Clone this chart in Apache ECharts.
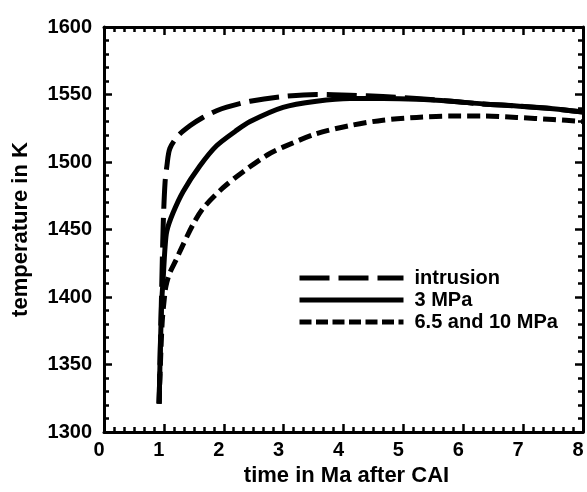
<!DOCTYPE html>
<html>
<head>
<meta charset="utf-8">
<script src="https://cdn.jsdelivr.net/npm/echarts@6/dist/echarts.min.js"></script>
<style>
html,body{margin:0;padding:0;background:#fff;}
#chart{width:587px;height:492px;}
</style>
</head>
<body>
<div id="chart"></div>
<script>
// Data
var seriesNames = ['intrusion', '3 MPa', '6.5 and 10 MPa'];

var intrusionTime = [0.92, 0.96, 0.99, 1.02, 1.05, 1.10, 1.24, 1.44, 1.65, 1.88, 2.05, 2.44, 2.99, 3.55, 4.11, 4.66, 5.22, 5.8, 6.33, 6.89, 7.5, 8.0];
var intrusionTemp = [1321, 1400, 1455, 1485, 1497, 1510, 1519.5, 1527, 1533, 1538, 1540.7, 1545, 1548.5, 1550, 1549.5, 1548.5, 1547, 1545, 1543, 1541.5, 1539.5, 1537];

var mpa3Time = [0.92, 0.96, 0.99, 1.02, 1.05, 1.15, 1.32, 1.6, 1.88, 2.2, 2.44, 2.99, 3.55, 4.11, 4.66, 5.22, 5.8, 6.33, 6.89, 7.5, 8.0];
var mpa3Temp = [1321, 1393, 1415, 1437, 1449, 1462, 1478, 1497, 1512, 1523, 1530, 1540.5, 1545, 1547, 1547, 1546.5, 1545, 1543, 1541.5, 1539.5, 1537];

var mpa65Time = [0.92, 0.97, 1.02, 1.05, 1.1, 1.21, 1.27, 1.49, 1.66, 1.99, 2.33, 2.72, 2.99, 3.55, 4.11, 4.66, 5.22, 5.8, 6.33, 6.89, 7.5, 8.0];
var mpa65Temp = [1321, 1380, 1404, 1411, 1418, 1428, 1434, 1454, 1466, 1481, 1493, 1505, 1511, 1521, 1527, 1531, 1533, 1534, 1534, 1533, 1531.5, 1530];

var xTicks = [0, 1, 2, 3, 4, 5, 6, 7, 8];
var yTicks = [1300, 1350, 1400, 1450, 1500, 1550, 1600];

function pairs(xs, ys) { return xs.map(function (x, i) { return [x, ys[i]]; }); }

var FONT = '"Liberation Sans", Arial, Helvetica, sans-serif';
var LONG_DASH = [30, 9];
var SHORT_DASH = [13, 6];

function makeX(pos, showLabel) {
  return {
    type: 'value', position: pos, min: xTicks[0], max: xTicks[xTicks.length - 1], interval: 1,
    axisLine: { show: true, onZero: false, lineStyle: { color: '#000', width: 3 } },
    axisTick: { show: true, inside: true, length: 8, lineStyle: { color: '#000', width: 2.5 } },
    minorTick: { show: true, splitNumber: 6, length: 5, lineStyle: { color: '#000', width: 2.5 } },
    splitLine: { show: false },
    axisLabel: { show: showLabel, color: '#000', fontFamily: FONT, fontWeight: 'bold', fontSize: 20, margin: 8, padding: [0, 10, 0, 0],
      formatter: function (v) { return String(v); } },
    name: showLabel ? 'time in Ma after CAI' : '',
    nameLocation: 'middle', nameGap: 33,
    nameTextStyle: { color: '#000', fontFamily: FONT, fontWeight: 'bold', fontSize: 22, padding: [0, 0, 0, 6] }
  };
}
function makeY(pos, showLabel) {
  return {
    type: 'value', position: pos, min: yTicks[0], max: yTicks[yTicks.length - 1], interval: 50,
    axisLine: { show: true, onZero: false, lineStyle: { color: '#000', width: 3 } },
    axisTick: { show: true, inside: true, length: 8, lineStyle: { color: '#000', width: 2.5 } },
    minorTick: { show: true, splitNumber: 5, length: 5, lineStyle: { color: '#000', width: 2.5 } },
    splitLine: { show: false },
    axisLabel: { show: showLabel, color: '#000', fontFamily: FONT, fontWeight: 'bold', fontSize: 20, margin: 12,
      formatter: function (v) { return String(v); } },
    name: showLabel ? 'temperature in K' : '',
    nameLocation: 'middle', nameGap: 72,
    nameTextStyle: { color: '#000', fontFamily: FONT, fontWeight: 'bold', fontSize: 22 }
  };
}

var chart = echarts.init(document.getElementById('chart'), null, { renderer: 'canvas' });
chart.setOption({
  animation: false,
  backgroundColor: '#fff',
  color: ['#000', '#000', '#000'],
  grid: { left: 104, right: 4, top: 27, bottom: 55 },
  xAxis: [makeX('bottom', true), makeX('top', false)],
  yAxis: [makeY('left', true), makeY('right', false)],
  legend: {
    data: [
      { name: seriesNames[0], lineStyle: { type: LONG_DASH } },
      { name: seriesNames[1] },
      { name: seriesNames[2], lineStyle: { type: [12, 4.5] } }
    ],
    orient: 'vertical', left: 292, top: 263,
    itemWidth: 104, itemHeight: 14, itemGap: 2,
    itemStyle: { opacity: 0 },
    lineStyle: { width: 5, color: '#000' },
    textStyle: { color: '#000', fontFamily: FONT, fontWeight: 'bold', fontSize: 20, lineHeight: 18, padding: [0, 0, 0, 6] },
    selectedMode: false
  },
  series: [
    {
      name: seriesNames[0], type: 'line', data: pairs(intrusionTime, intrusionTemp),
      smooth: 0.3, showSymbol: false, symbol: 'none', z: 3,
      itemStyle: { color: '#000' },
      lineStyle: { color: '#000', width: 5, type: LONG_DASH, cap: 'butt' }
    },
    {
      name: seriesNames[1], type: 'line', data: pairs(mpa3Time, mpa3Temp),
      smooth: 0.3, showSymbol: false, symbol: 'none', z: 2,
      itemStyle: { color: '#000' },
      lineStyle: { color: '#000', width: 5, type: 'solid' }
    },
    {
      name: seriesNames[2], type: 'line', data: pairs(mpa65Time, mpa65Temp),
      smooth: 0.3, showSymbol: false, symbol: 'none', z: 2,
      itemStyle: { color: '#000' },
      lineStyle: { color: '#000', width: 5, type: SHORT_DASH, cap: 'butt' }
    }
  ]
});
</script>
</body>
</html>
